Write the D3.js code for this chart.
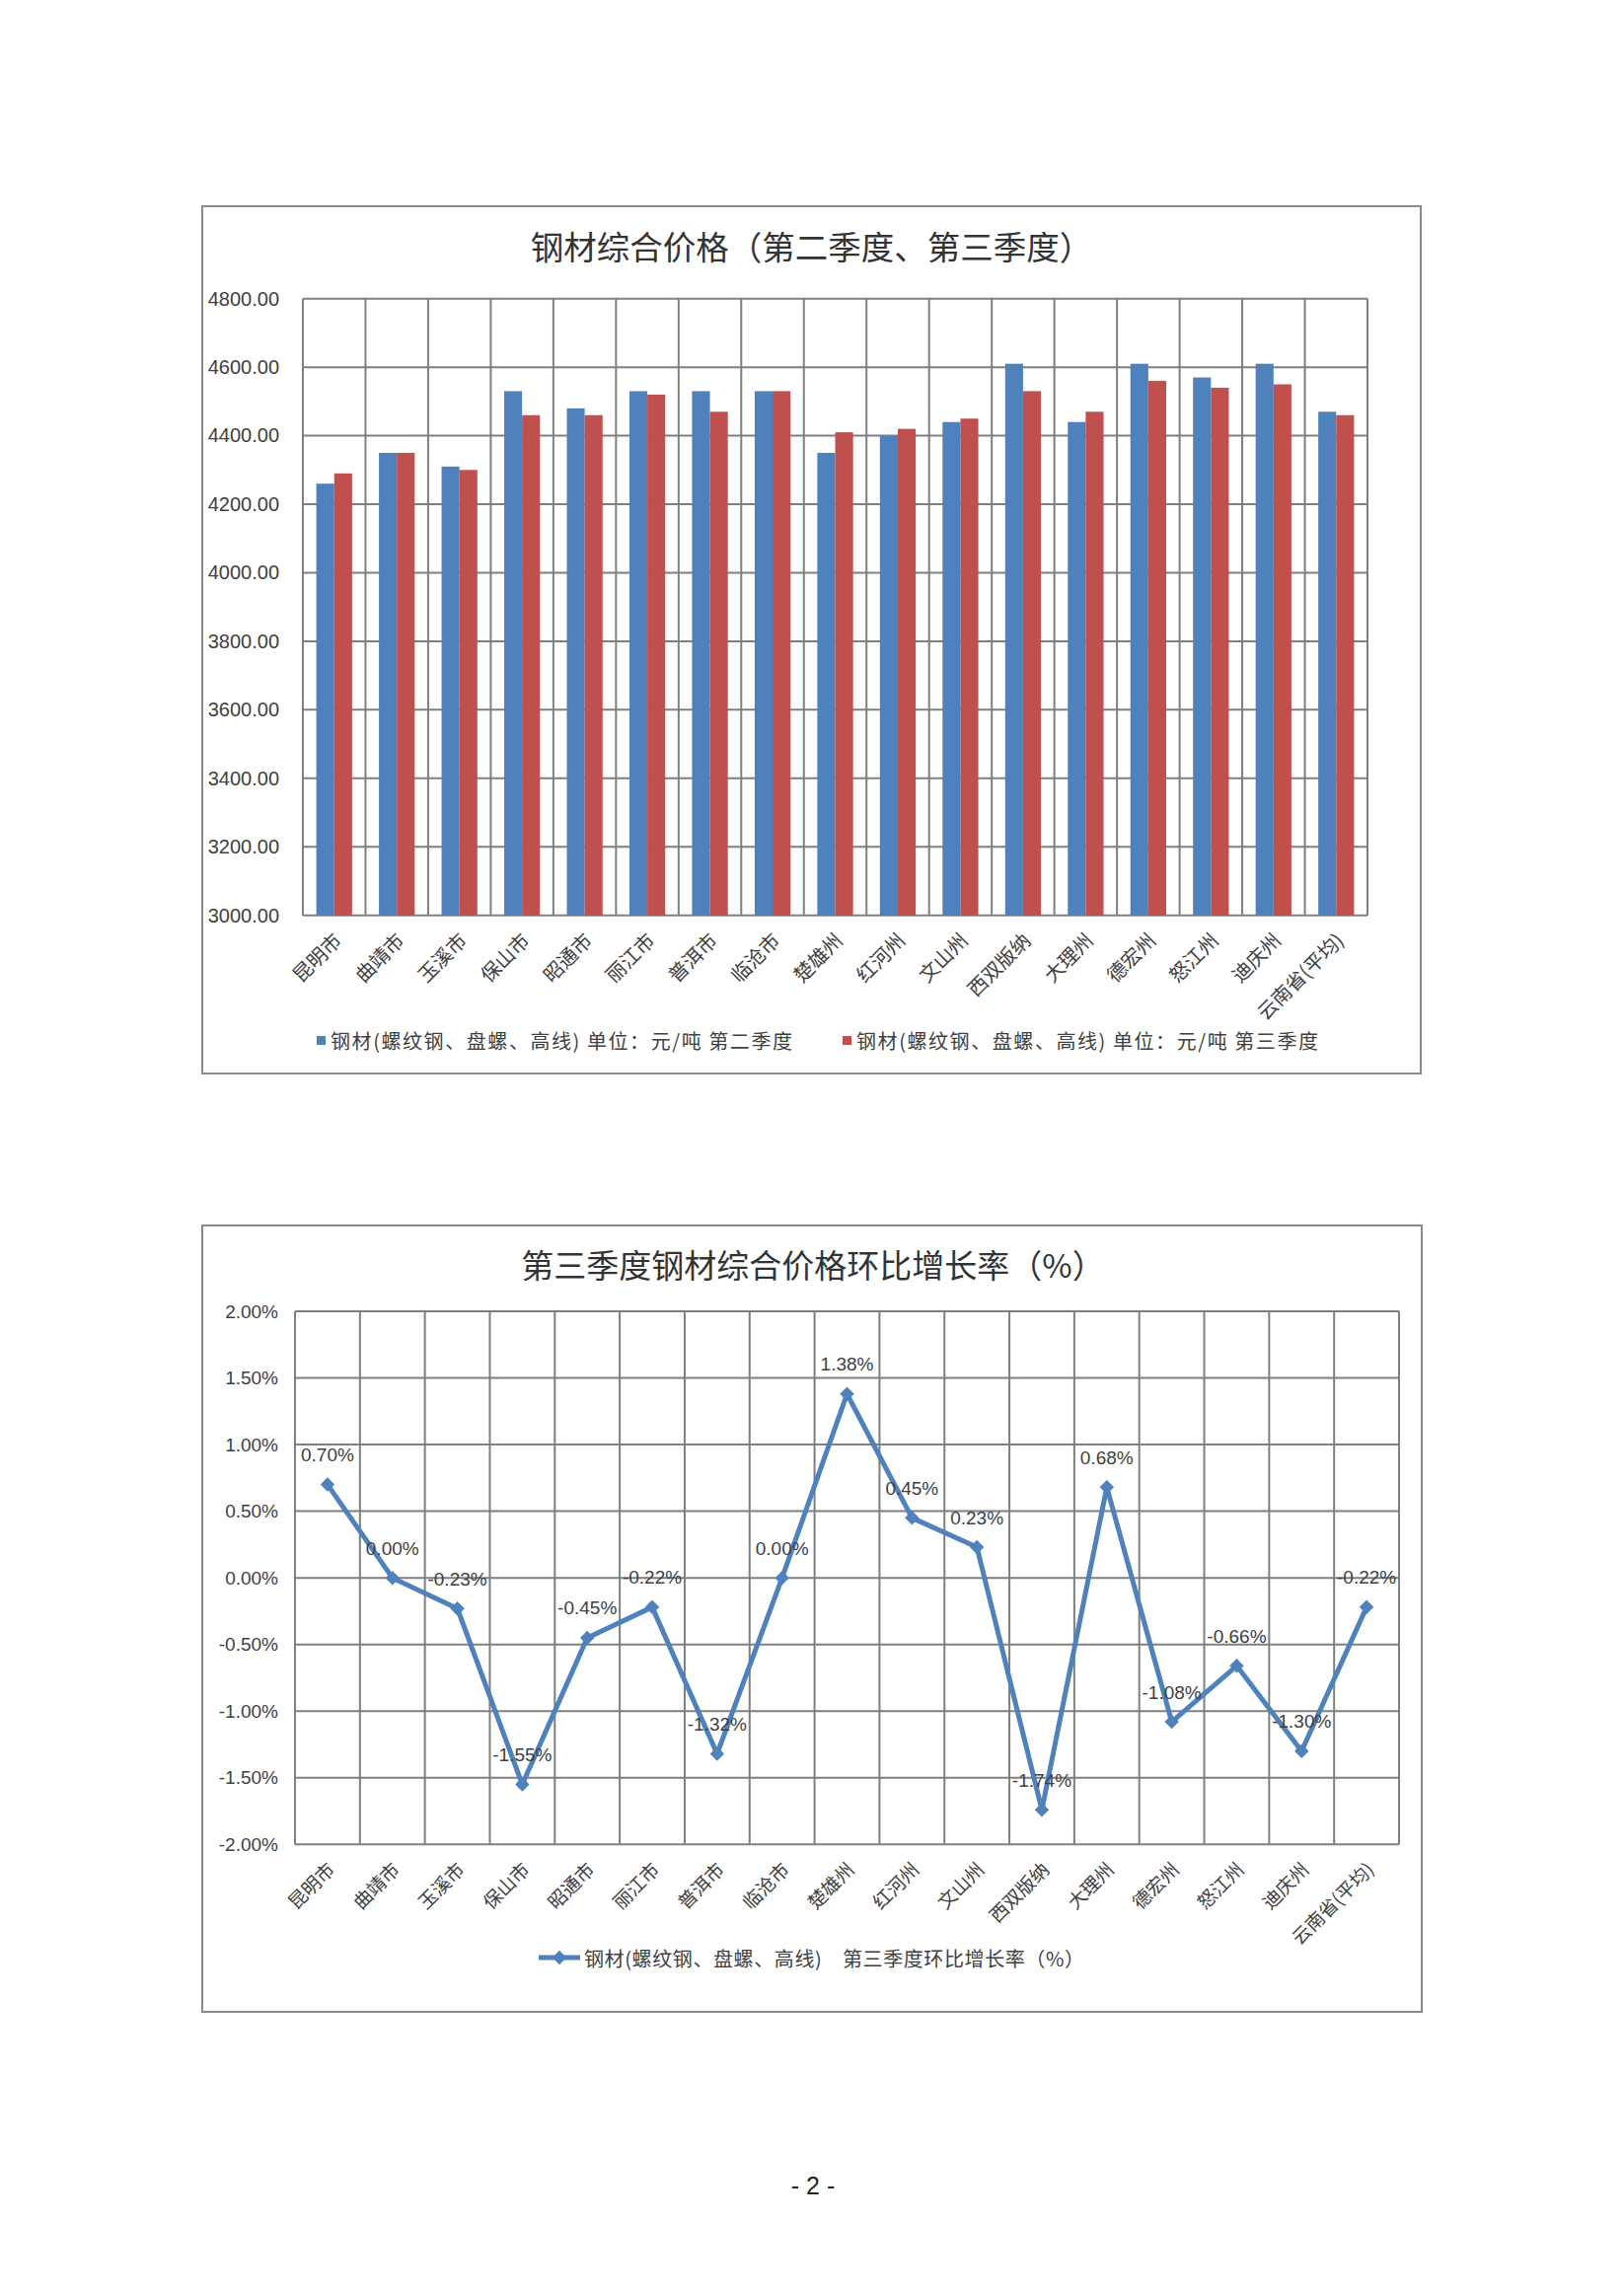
<!DOCTYPE html>
<html>
<head>
<meta charset="utf-8">
<script src="https://cdn.jsdelivr.net/npm/d3@7/dist/d3.min.js"></script>
<style>
  html, body { margin: 0; padding: 0; background: #fff; }
  svg { display: block; }
</style>
</head>
<body>
<script>
// ---------------- DATA ----------------
const categories = ["昆明市","曲靖市","玉溪市","保山市","昭通市","丽江市","普洱市","临沧市","楚雄州","红河州","文山州","西双版纳","大理州","德宏州","怒江州","迪庆州","云南省(平均)"];
const q2Values = [4260,4350,4310,4530,4480,4530,4530,4530,4350,4400,4440,4610,4440,4610,4570,4610,4470];
const q3Values = [4290,4350,4300,4460,4460,4520,4470,4530,4410,4420,4450,4530,4470,4560,4540,4550,4460];
const growthValues = [0.70,0.00,-0.23,-1.55,-0.45,-0.22,-1.32,0.00,1.38,0.45,0.23,-1.74,0.68,-1.08,-0.66,-1.30,-0.22];
const priceTicks = [3000,3200,3400,3600,3800,4000,4200,4400,4600,4800];
const growthTicks = [-2.0,-1.5,-1.0,-0.5,0.0,0.5,1.0,1.5,2.0];
const seriesNames = ["钢材(螺纹钢、盘螺、高线) 单位：元/吨 第二季度","钢材(螺纹钢、盘螺、高线) 单位：元/吨 第三季度"];
const lineSeriesName = "钢材(螺纹钢、盘螺、高线)　第三季度环比增长率（%）";
const title1 = "钢材综合价格（第二季度、第三季度）";
const title2 = "第三季度钢材综合价格环比增长率（%）";

// ---------------- STYLE ----------------
const W = 1646, H = 2327;
const BLUE = "#4F81BD", RED = "#C0504D";
const GRID = "#7f7f7f", FRAME = "#8a8a8a", TXT = "#404040";
const FONT = "'Liberation Sans', 'Noto Sans CJK SC', sans-serif";
const CJK = "'Noto Sans CJK SC', sans-serif";

const svg = d3.select("body").append("svg").attr("width", W).attr("height", H);
svg.append("rect").attr("width", W).attr("height", H).attr("fill", "#fff");

// ================= CHART 1 =================
const c1 = { fx0: 205, fy0: 209, fx1: 1440, fy1: 1088, px0: 307, px1: 1386, py0: 302.7, py1: 927.7 };
const g1 = svg.append("g");
g1.append("rect").attr("x", c1.fx0).attr("y", c1.fy0).attr("width", c1.fx1 - c1.fx0).attr("height", c1.fy1 - c1.fy0)
  .attr("fill", "#fff").attr("stroke", FRAME).attr("stroke-width", 2);

g1.append("text").attr("x", (c1.fx0 + c1.fx1) / 2).attr("y", 248).attr("text-anchor", "middle")
  .attr("dominant-baseline", "central").attr("font-family", CJK).attr("font-size", 33.5).attr("fill", "#333")
  .text(title1);

const x1 = d3.scaleBand().domain(categories).range([c1.px0, c1.px1]).paddingInner(0).paddingOuter(0);
const xs1 = d3.scaleBand().domain(["q2","q3"]).range([0, x1.bandwidth()]).paddingInner(0).paddingOuter(0.75);
const y1 = d3.scaleLinear().domain([3000, 4800]).range([c1.py1, c1.py0]);

// horizontal gridlines
g1.append("g").selectAll("line").data(priceTicks).join("line")
  .attr("x1", c1.px0).attr("x2", c1.px1).attr("y1", d => y1(d)).attr("y2", d => y1(d))
  .attr("stroke", GRID).attr("stroke-width", 2);
// vertical gridlines at category boundaries
const bounds1 = categories.map(c => x1(c)).concat([c1.px1]);
g1.append("g").selectAll("line").data(bounds1).join("line")
  .attr("x1", d => d).attr("x2", d => d).attr("y1", c1.py0).attr("y2", c1.py1)
  .attr("stroke", GRID).attr("stroke-width", 2);

// bars
const barData = categories.map((c, i) => ({ c, q2: q2Values[i], q3: q3Values[i] }));
const bg = g1.append("g").selectAll("g").data(barData).join("g").attr("transform", d => `translate(${x1(d.c)},0)`);
bg.append("rect").attr("x", xs1("q2")).attr("width", xs1.bandwidth())
  .attr("y", d => y1(d.q2)).attr("height", d => y1(3000) - y1(d.q2)).attr("fill", BLUE);
bg.append("rect").attr("x", xs1("q3")).attr("width", xs1.bandwidth())
  .attr("y", d => y1(d.q3)).attr("height", d => y1(3000) - y1(d.q3)).attr("fill", RED);

// y axis labels
const ya1 = g1.append("g").attr("transform", `translate(${c1.px0},0)`)
  .call(d3.axisLeft(y1).tickValues(priceTicks).tickFormat(d3.format(".2f")).tickSize(0).tickPadding(24));
ya1.select(".domain").remove();
ya1.selectAll("text").attr("font-family", FONT).attr("font-size", 20).attr("fill", TXT);

// x axis labels
const xa1 = g1.append("g").attr("transform", `translate(0,${c1.py1})`)
  .call(d3.axisBottom(x1).tickSize(0).tickPadding(0));
xa1.select(".domain").remove();
xa1.selectAll("text").attr("font-family", CJK).attr("font-size", 20).attr("fill", TXT)
  .attr("text-anchor", "end").attr("dy", "0.35em")
  .attr("transform", "translate(4,22) rotate(-45)");

// legend
const lg1 = g1.append("g");
[[0, 321, BLUE], [1, 854, RED]].forEach(([i, lx, col]) => {
  lg1.append("rect").attr("x", lx).attr("y", 1050).attr("width", 9).attr("height", 9).attr("fill", col);
  lg1.append("text").attr("x", lx + 14).attr("y", 1054).attr("dominant-baseline", "central")
    .attr("font-family", CJK).attr("font-size", 20).attr("fill", TXT)
    .attr("textLength", 468).attr("lengthAdjust", "spacing").text(seriesNames[i]);
});

// ================= CHART 2 =================
const c2 = { fx0: 205, fy0: 1242, fx1: 1441, fy1: 2039, px0: 299, px1: 1418, py0: 1329, py1: 1869.3 };
const g2 = svg.append("g");
g2.append("rect").attr("x", c2.fx0).attr("y", c2.fy0).attr("width", c2.fx1 - c2.fx0).attr("height", c2.fy1 - c2.fy0)
  .attr("fill", "#fff").attr("stroke", FRAME).attr("stroke-width", 2);

g2.append("text").attr("x", (c2.fx0 + c2.fx1) / 2 + 1).attr("y", 1281).attr("text-anchor", "middle")
  .attr("dominant-baseline", "central").attr("font-family", CJK).attr("font-size", 33).attr("fill", "#333")
  .text(title2);

const x2 = d3.scaleBand().domain(categories).range([c2.px0, c2.px1]).paddingInner(0).paddingOuter(0);
const y2 = d3.scaleLinear().domain([-2, 2]).range([c2.py1, c2.py0]);

g2.append("g").selectAll("line").data(growthTicks).join("line")
  .attr("x1", c2.px0).attr("x2", c2.px1).attr("y1", d => y2(d)).attr("y2", d => y2(d))
  .attr("stroke", GRID).attr("stroke-width", 2);
const bounds2 = categories.map(c => x2(c)).concat([c2.px1]);
g2.append("g").selectAll("line").data(bounds2).join("line")
  .attr("x1", d => d).attr("x2", d => d).attr("y1", c2.py0).attr("y2", c2.py1)
  .attr("stroke", GRID).attr("stroke-width", 2);

const ya2 = g2.append("g").attr("transform", `translate(${c2.px0},0)`)
  .call(d3.axisLeft(y2).tickValues(growthTicks).tickFormat(d => d.toFixed(2) + "%").tickSize(0).tickPadding(17));
ya2.select(".domain").remove();
ya2.selectAll("text").attr("font-family", FONT).attr("font-size", 19).attr("fill", TXT);

const xa2 = g2.append("g").attr("transform", `translate(0,${c2.py1})`)
  .call(d3.axisBottom(x2).tickSize(0).tickPadding(0));
xa2.select(".domain").remove();
xa2.selectAll("text").attr("font-family", CJK).attr("font-size", 19).attr("fill", TXT)
  .attr("text-anchor", "end").attr("dy", "0.35em")
  .attr("transform", "translate(4,22) rotate(-45)");

const pts = categories.map((c, i) => ({ c, v: growthValues[i] }));
const cx = d => x2(d.c) + x2.bandwidth() / 2;
g2.append("path").datum(pts)
  .attr("d", d3.line().x(cx).y(d => y2(d.v)))
  .attr("fill", "none").attr("stroke", BLUE).attr("stroke-width", 5).attr("stroke-linejoin", "round");
const diamond = d3.symbol(d3.symbolSquare, 105);
g2.append("g").selectAll("path").data(pts).join("path")
  .attr("d", diamond).attr("fill", BLUE)
  .attr("transform", d => `translate(${cx(d)},${y2(d.v)}) rotate(45)`);
g2.append("g").selectAll("text").data(pts).join("text")
  .attr("x", cx).attr("y", d => y2(d.v) - 30).attr("text-anchor", "middle").attr("dominant-baseline", "central")
  .attr("font-family", FONT).attr("font-size", 19).attr("fill", TXT)
  .text(d => d.v.toFixed(2) + "%");

// legend
const lg2 = g2.append("g");
lg2.append("line").attr("x1", 546).attr("x2", 588).attr("y1", 1984).attr("y2", 1984).attr("stroke", BLUE).attr("stroke-width", 5);
lg2.append("path").attr("d", diamond).attr("fill", BLUE).attr("transform", "translate(567,1984) rotate(45)");
lg2.append("text").attr("x", 592).attr("y", 1984).attr("dominant-baseline", "central")
  .attr("font-family", CJK).attr("font-size", 20).attr("fill", TXT)
  .attr("textLength", 507).attr("lengthAdjust", "spacing").text(lineSeriesName);

// page number
svg.append("text").attr("x", 824).attr("y", 2215).attr("text-anchor", "middle").attr("dominant-baseline", "central")
  .attr("font-family", FONT).attr("font-size", 25).attr("fill", "#222").text("- 2 -");
</script>
</body>
</html>
